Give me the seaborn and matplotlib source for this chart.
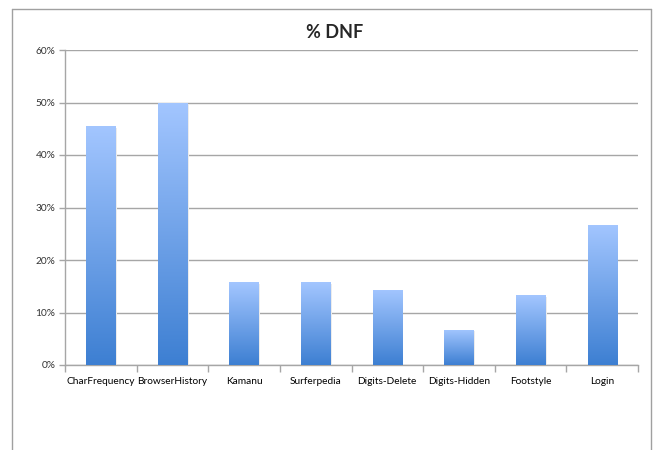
import numpy as np
import pandas as pd
import matplotlib.pyplot as plt
import seaborn as sns
from matplotlib.lines import Line2D
from matplotlib.colors import LinearSegmentedColormap
from matplotlib.ticker import PercentFormatter, FixedLocator

# data
apps = ['CharFrequency', 'BrowserHistory', 'Kamanu', 'Surferpedia',
        'Digits-Delete', 'Digits-Hidden', 'Footstyle', 'Login']
dnf = [45.5, 50.0, 15.8, 15.8, 14.3, 6.7, 13.3, 26.7]

df = pd.DataFrame({'app': apps, 'dnf': dnf})

sns.set_style('white')
plt.rcParams['font.family'] = ['Lato', 'DejaVu Sans']

fig = plt.figure(figsize=(6.61, 4.5), dpi=100)
ax = fig.add_axes([65/661, 85/450, 573/661, 315/450])

sns.barplot(data=df, x='app', y='dnf', color='#5b93e0', width=0.41, ax=ax, zorder=3)

# vertical gradient inside each bar: light at top, darker at bottom
cmap = LinearSegmentedColormap.from_list('bluegrad', ['#3d7fd2', '#a3c6ff'])
grad = np.linspace(0, 1, 256).reshape(-1, 1)
for p in ax.patches:
    x0, w, h = p.get_x(), p.get_width(), p.get_height()
    p.set_facecolor('none')
    p.set_edgecolor('none')
    im = ax.imshow(grad, cmap=cmap, origin='lower', aspect='auto',
                   extent=(x0, x0 + w, 0, h), zorder=3)
    im.set_clip_path(p)
    # faint shadow on the right side
    ax.fill_between([x0 + w, x0 + w + 0.02], 0, h - 0.3, color='#ececec', zorder=2, lw=0)

ax.set_xlim(-0.5, len(apps) - 0.5)
ax.set_ylim(0, 60)
ax.set_yticks(range(0, 61, 10))
ax.yaxis.set_major_formatter(PercentFormatter(decimals=0))
ax.grid(axis='y', color='#a6a6a6', lw=1, zorder=0)
ax.set_axisbelow(True)
for s in ['top', 'right']:
    ax.spines[s].set_visible(False)
for s in ['left', 'bottom']:
    ax.spines[s].set_color('#a6a6a6')
    ax.spines[s].set_linewidth(1)

ax.set_xlabel('')
ax.set_ylabel('')
ax.tick_params(axis='x', length=0, labelsize=7.3, pad=9, colors='black')
ax.tick_params(axis='y', left=True, length=4, width=1, color='#a6a6a6', labelsize=7.3,
               labelcolor='#333333', direction='out', pad=3)
# category-boundary ticks along the x axis
ax.xaxis.set_minor_locator(FixedLocator(np.arange(-0.5, len(apps), 1)))
ax.tick_params(axis='x', which='minor', bottom=True, length=5, width=1,
               color='#a6a6a6', direction='out')

fig.text(335/661, 1 - 32/450, '% DNF', ha='center', va='center',
         fontsize=13, fontweight='bold')

# outer chart frame (left, top, right)
fc = '#a0a0a0'
fig.add_artist(Line2D([12/661, 12/661], [0, 1 - 9/450], color=fc, lw=1))
fig.add_artist(Line2D([12/661, 651/661], [1 - 9/450, 1 - 9/450], color=fc, lw=1))
fig.add_artist(Line2D([651/661, 651/661], [0, 1 - 9/450], color=fc, lw=1))

fig.savefig('out.png', dpi=100)
